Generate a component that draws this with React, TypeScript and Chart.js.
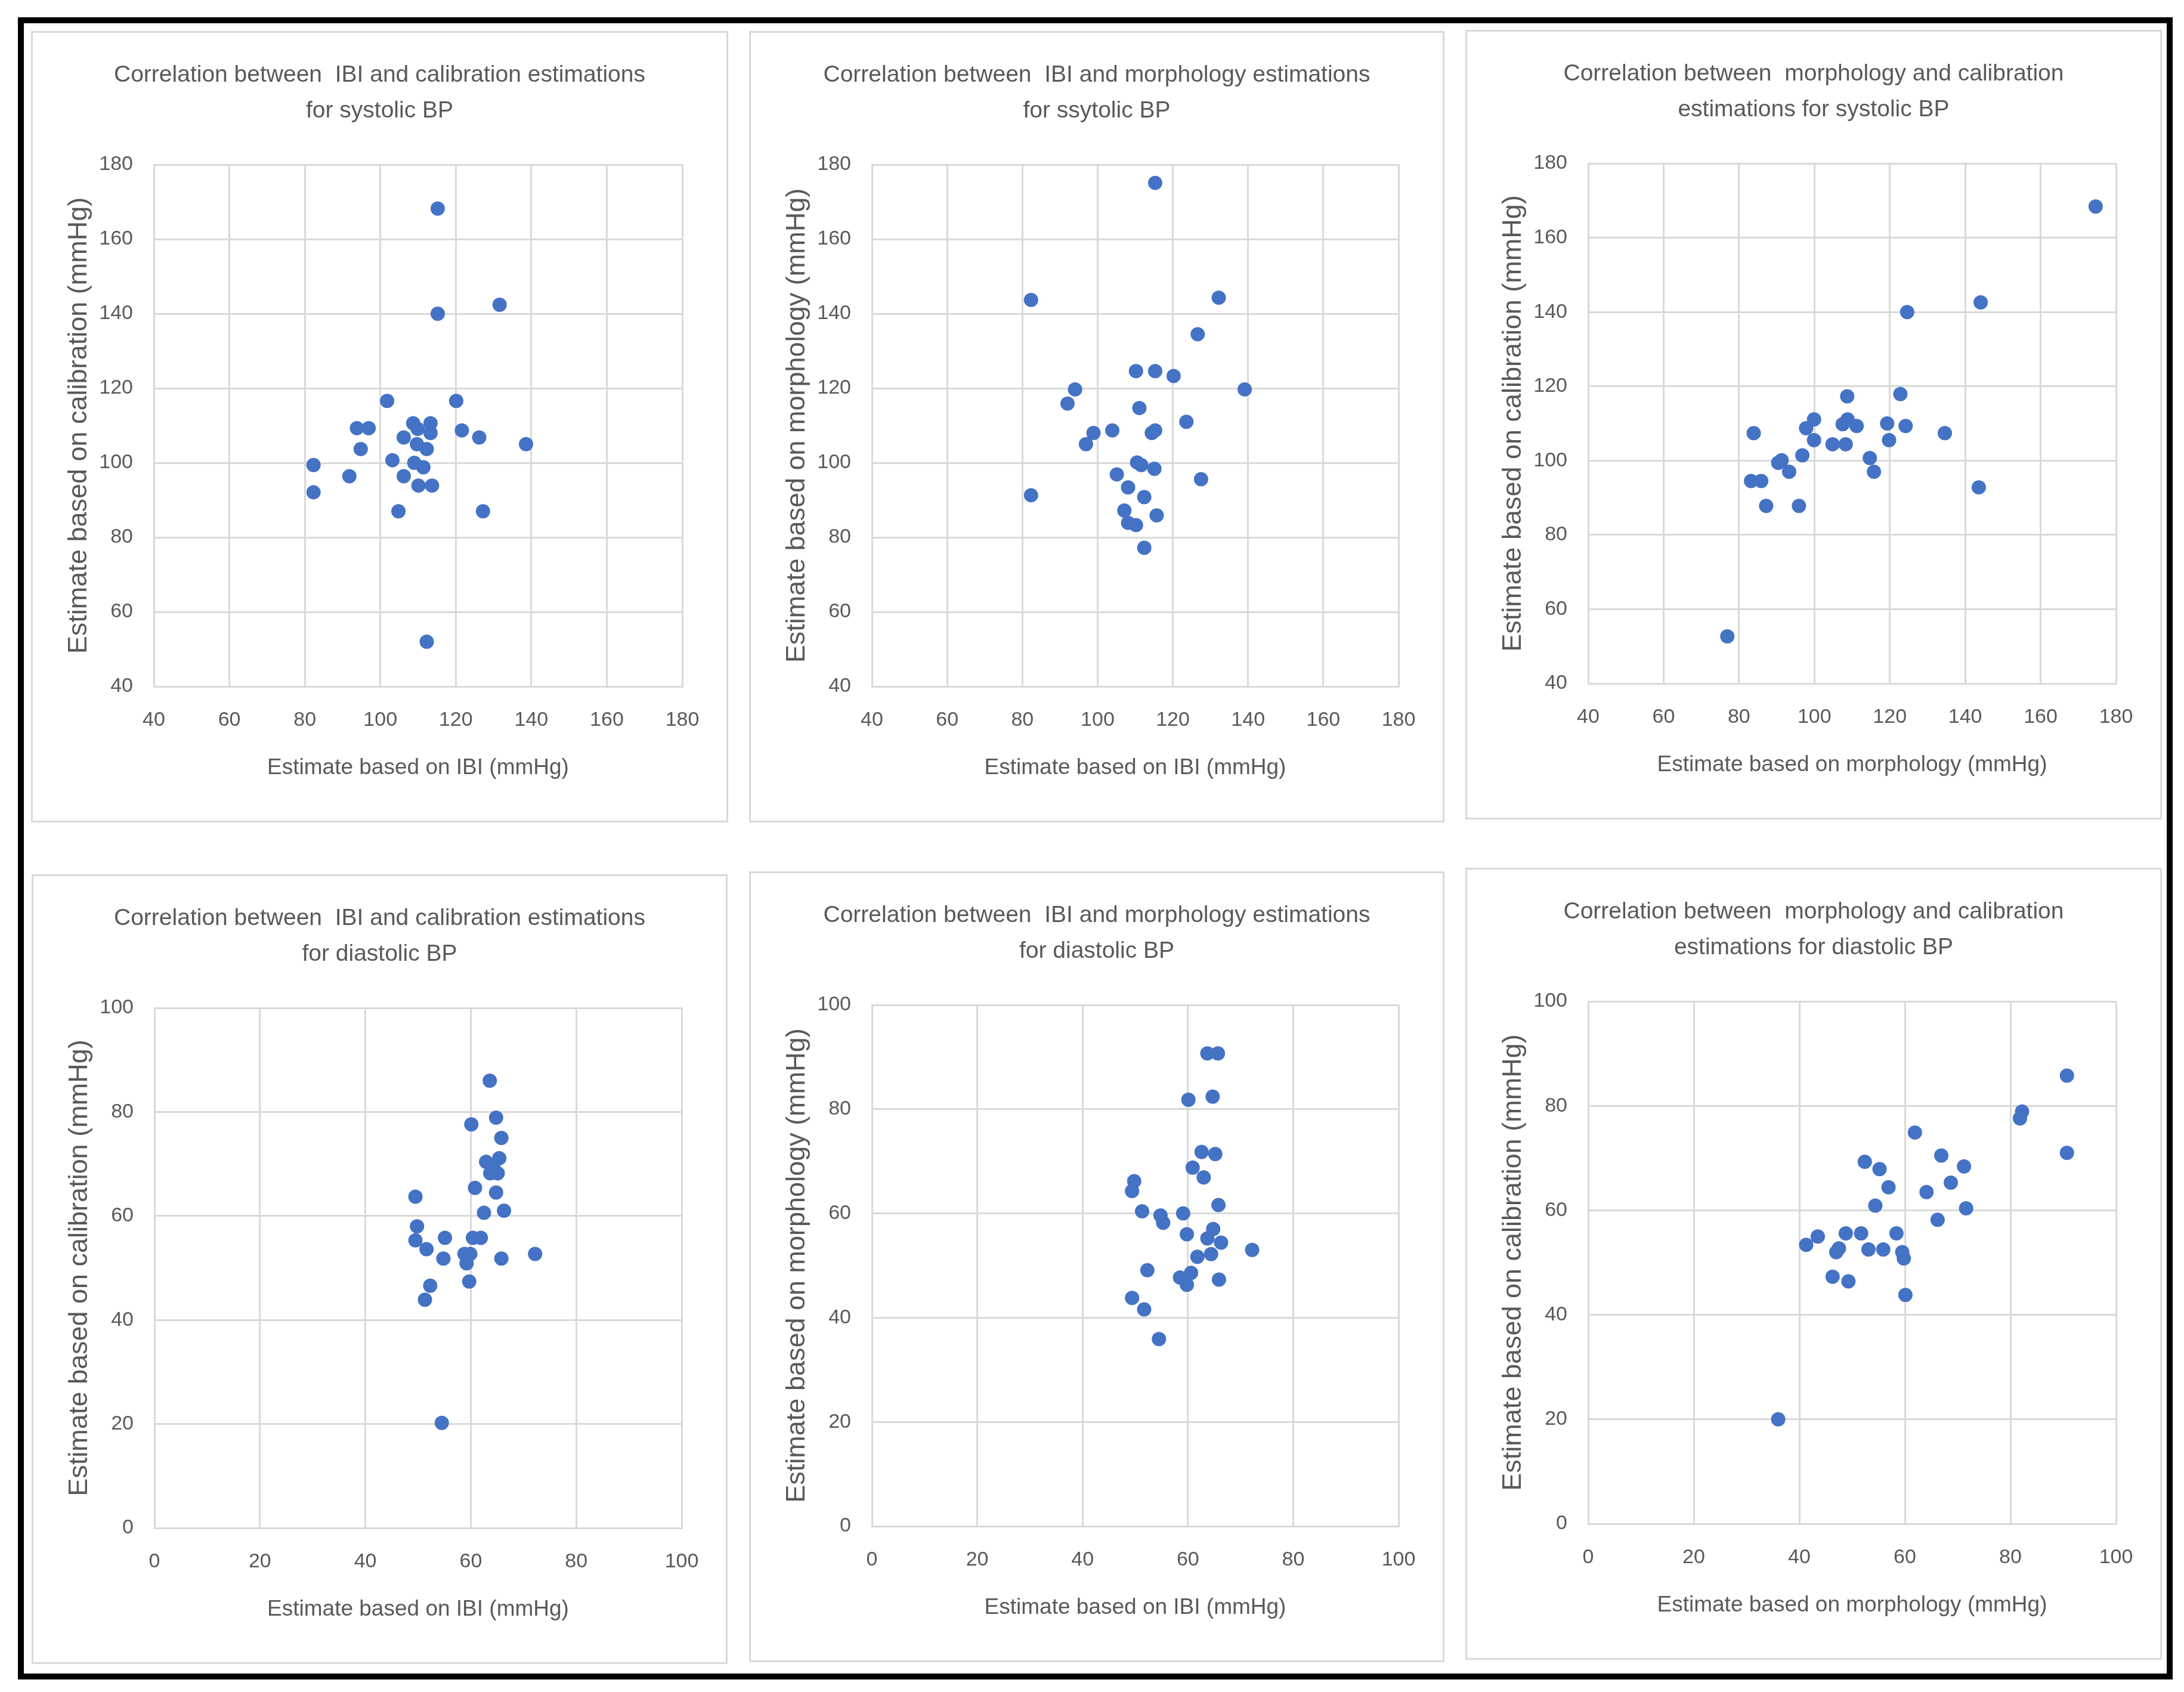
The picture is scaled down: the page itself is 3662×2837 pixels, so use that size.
import React, { useEffect, useRef } from "react";
import { Chart, registerables } from "chart.js";

Chart.register(...registerables);

// ---------- Data ----------
// Panel 1: IBI vs calibration, systolic
const sysIbiCal_IBI = [115.2, 131.6, 115.2, 101.8, 120.1, 93.8, 96.9, 108.7, 113.3, 109.9, 113.3, 121.6, 106.2, 126.2, 109.7, 138.6, 94.8, 112.3, 103.2, 82.3, 109, 111.4, 91.8, 106.2, 82.3, 110.1, 113.7, 104.8, 127.2, 112.3];
const sysIbiCal_Cal = [168.2, 142.4, 140, 116.6, 116.6, 109.3, 109.3, 110.6, 110.6, 109.1, 108, 108.7, 106.8, 106.8, 105, 105, 103.7, 103.7, 100.7, 99.4, 100, 98.8, 96.4, 96.4, 92.1, 93.9, 93.9, 87, 87, 52];

// Panel 2: IBI vs morphology, systolic
const sysIbiMor_IBI = [115.3, 82.3, 132.2, 126.6, 110.2, 115.3, 120.2, 94.0, 139.1, 92.0, 111.1, 123.6, 103.9, 98.9, 114.4, 115.3, 96.9, 110.5, 111.6, 115.1, 105.1, 127.5, 108.1, 82.3, 112.4, 107.1, 115.7, 108.1, 110.2, 112.4];
const sysIbiMor_Mor = [175.1, 143.7, 144.3, 134.5, 124.6, 124.6, 123.3, 119.7, 119.7, 115.9, 114.7, 111, 108.7, 108, 108, 108.7, 105, 100.1, 99.4, 98.4, 96.9, 95.6, 93.4, 91.3, 90.8, 87.2, 85.9, 83.9, 83.3, 77.2];

// Panel 3: morphology vs calibration, systolic
const sysMorCal_Mor = [174.6, 144.1, 124.6, 108.7, 122.8, 99.9, 97.8, 108.8, 107.5, 111.2, 119.3, 124.2, 83.9, 134.6, 99.9, 119.8, 104.8, 108.3, 96.8, 114.7, 91.3, 90.4, 93.3, 115.8, 83.2, 85.9, 143.6, 87.2, 95.9, 76.9];
const sysMorCal_Cal = [168.4, 142.6, 140, 117.3, 117.9, 111.1, 108.7, 111.1, 109.8, 109.3, 110, 109.3, 107.4, 107.4, 105.5, 105.5, 104.4, 104.4, 101.4, 100.7, 100.1, 99.4, 97, 97, 94.5, 94.5, 92.8, 87.8, 87.8, 52.7];

// Panel 4: IBI vs calibration, diastolic
const diaIbiCal_IBI = [63.6, 64.8, 60.1, 65.8, 62.9, 65.4, 64.3, 63.7, 65.1, 60.8, 49.5, 64.8, 62.5, 66.3, 49.8, 49.5, 51.6, 55.1, 60.4, 61.9, 54.8, 58.8, 59.9, 59.2, 65.8, 72.2, 52.3, 59.7, 51.3, 54.5];
const diaIbiCal_Cal = [86, 78.9, 77.6, 75, 70.4, 71.1, 69.4, 68.2, 68.2, 65.4, 63.7, 64.5, 60.6, 61, 58, 55.3, 53.6, 55.8, 55.8, 55.8, 51.8, 52.7, 52.7, 50.9, 51.8, 52.7, 46.6, 47.4, 43.9, 20.2];

// Panel 5: IBI vs morphology, diastolic
const diaIbiMor_IBI = [63.7, 65.7, 60.1, 64.7, 62.6, 65.2, 60.9, 63.0, 49.8, 49.4, 65.8, 51.3, 54.8, 55.3, 59.1, 59.8, 64.8, 63.7, 66.3, 72.2, 61.8, 64.4, 52.3, 58.5, 59.5, 60.6, 59.8, 65.9, 49.4, 51.7, 54.5];
const diaIbiMor_Mor = [90.7, 90.7, 81.8, 82.4, 71.8, 71.4, 68.8, 66.9, 66.2, 64.3, 61.6, 60.4, 59.6, 58.2, 60.0, 56.0, 57.0, 55.2, 54.4, 53.0, 51.7, 52.2, 49.1, 47.7, 47.3, 48.6, 46.3, 47.3, 43.8, 41.6, 35.9];

// Panel 6: morphology vs calibration, diastolic
const diaMorCal_Mor = [90.7, 82.2, 81.8, 61.9, 90.7, 66.9, 52.4, 71.2, 55.2, 68.7, 56.9, 64.1, 54.4, 71.6, 66.2, 43.5, 48.8, 51.7, 58.4, 41.3, 47.5, 47.0, 53.1, 55.9, 59.5, 59.8, 46.3, 49.3, 60.1, 36.0];
const diaMorCal_Cal = [85.8, 78.9, 77.6, 74.9, 71.0, 70.5, 69.3, 68.4, 67.9, 65.3, 64.4, 63.5, 60.9, 60.4, 58.2, 55.0, 55.6, 55.6, 55.6, 53.4, 52.7, 52.0, 52.5, 52.5, 52.0, 50.8, 47.3, 46.4, 43.8, 20.0];

// Titles and axis labels
const titles: string[][] = [
  ["Correlation between  IBI and calibration estimations", "for systolic BP"],
  ["Correlation between  IBI and morphology estimations", "for ssytolic BP"],
  ["Correlation between  morphology and calibration", "estimations for systolic BP"],
  ["Correlation between  IBI and calibration estimations", "for diastolic BP"],
  ["Correlation between  IBI and morphology estimations", "for diastolic BP"],
  ["Correlation between  morphology and calibration", "estimations for diastolic BP"],
];
const xTitles = [
  "Estimate based on IBI (mmHg)",
  "Estimate based on IBI (mmHg)",
  "Estimate based on morphology (mmHg)",
  "Estimate based on IBI (mmHg)",
  "Estimate based on IBI (mmHg)",
  "Estimate based on morphology (mmHg)",
];
const yTitles = [
  "Estimate based on calibration (mmHg)",
  "Estimate based on morphology (mmHg)",
  "Estimate based on calibration (mmHg)",
  "Estimate based on calibration (mmHg)",
  "Estimate based on morphology (mmHg)",
  "Estimate based on calibration (mmHg)",
];
const systolicRange = [40, 180];
const diastolicRange = [0, 100];
const tickStep = 20;

// ---------- Styling ----------
const FONT = "'Liberation Sans', Arial, sans-serif";
const TEXT = "#595959";
const GRID = "#d9d9d9";
const DOT = "#4472C4";

type PanelDef = {
  xs: number[];
  ys: number[];
  title: string[];
  xTitle: string;
  yTitle: string;
  range: number[];
  rect: [number, number, number, number];
};

const panels: PanelDef[] = [
  { xs: sysIbiCal_IBI, ys: sysIbiCal_Cal, title: titles[0], xTitle: xTitles[0], yTitle: yTitles[0], range: systolicRange, rect: [52, 52, 1169, 1327] },
  { xs: sysIbiMor_IBI, ys: sysIbiMor_Mor, title: titles[1], xTitle: xTitles[1], yTitle: yTitles[1], range: systolicRange, rect: [1256, 52, 1166, 1327] },
  { xs: sysMorCal_Mor, ys: sysMorCal_Cal, title: titles[2], xTitle: xTitles[2], yTitle: yTitles[2], range: systolicRange, rect: [2457, 50, 1168, 1324] },
  { xs: diaIbiCal_IBI, ys: diaIbiCal_Cal, title: titles[3], xTitle: xTitles[3], yTitle: yTitles[3], range: diastolicRange, rect: [53, 1466, 1167, 1324] },
  { xs: diaIbiMor_IBI, ys: diaIbiMor_Mor, title: titles[4], xTitle: xTitles[4], yTitle: yTitles[4], range: diastolicRange, rect: [1256, 1461, 1166, 1326] },
  { xs: diaMorCal_Mor, ys: diaMorCal_Cal, title: titles[5], xTitle: xTitles[5], yTitle: yTitles[5], range: diastolicRange, rect: [2457, 1455, 1168, 1328] },
];

const BORDER = 3;

function ScatterPanel({ p }: { p: PanelDef }) {
  const ref = useRef<HTMLCanvasElement | null>(null);
  const [left, top, w, h] = p.rect;
  const cw = w - 2 * BORDER;
  const ch = h - 2 * BORDER;

  useEffect(() => {
    if (!ref.current) return;
    const tickFont = { family: FONT, size: 34, weight: "normal" as const };
    const xTitleFont = { family: FONT, size: 37, weight: "normal" as const, lineHeight: 1.2 };
    const yTitleFont = { family: FONT, size: 45, weight: "normal" as const, lineHeight: 1.2 };
    const chart = new Chart(ref.current, {
      type: "scatter",
      data: {
        datasets: [
          {
            data: p.xs.map((x, i) => ({ x, y: p.ys[i] })),
            backgroundColor: DOT,
            borderColor: DOT,
            pointRadius: 12,
            pointHoverRadius: 12,
            pointBorderWidth: 0,
            yAxisID: "y",
          },
        ],
      },
      options: {
        responsive: false,
        animation: false,
        devicePixelRatio: 1,
        layout: { padding: 0 },
        plugins: {
          legend: { display: false },
          tooltip: { enabled: false },
          title: {
            display: true,
            text: p.title,
            color: TEXT,
            font: { family: FONT, size: 39, weight: "normal", lineHeight: 60 / 39 },
            padding: { top: 41, bottom: 60 },
          },
        },
        scales: {
          x: {
            type: "linear",
            min: p.range[0],
            max: p.range[1],
            ticks: { stepSize: tickStep, color: TEXT, font: tickFont, padding: 36 },
            grid: { color: GRID, lineWidth: 3, drawTicks: false },
            border: { color: GRID, width: 3 },
            title: { display: true, text: p.xTitle, color: TEXT, font: xTitleFont, padding: { top: 0, bottom: 66 } },
            afterFit: (s: any) => {
              s.height = 225;
            },
          },
          y: {
            type: "linear",
            position: "left",
            min: p.range[0],
            max: p.range[1],
            ticks: { stepSize: tickStep, color: TEXT, font: tickFont, padding: 35 },
            grid: { color: GRID, lineWidth: 3, drawTicks: false },
            border: { color: GRID, width: 3 },
            title: { display: true, text: p.yTitle, color: TEXT, font: yTitleFont, padding: { top: 51, bottom: 0 } },
            afterFit: (s: any) => {
              s.width = 203;
            },
          },
          spacer: {
            type: "linear",
            position: "right",
            display: true,
            min: 0,
            max: 1,
            ticks: { display: false },
            grid: { display: false, drawTicks: false },
            border: { display: false },
            title: { display: false },
            afterFit: (s: any) => {
              s.width = 74;
            },
          },
        },
      },
    } as any);
    return () => chart.destroy();
  }, [p]);

  return (
    <div
      style={{
        position: "absolute",
        left,
        top,
        width: w,
        height: h,
        border: `${BORDER}px solid ${GRID}`,
        boxSizing: "border-box",
        background: "#ffffff",
      }}
    >
      <canvas ref={ref} width={cw} height={ch} style={{ display: "block", width: cw, height: ch }} />
    </div>
  );
}

export default function App() {
  useEffect(() => {
    document.body.style.margin = "0";
  }, []);
  return (
    <div style={{ position: "absolute", left: 0, top: 0, width: 3662, height: 2837, background: "#ffffff", overflow: "hidden" }}>
      <div
        style={{
          position: "absolute",
          left: 30,
          top: 29,
          width: 3613,
          height: 2787,
          border: "10px solid #000000",
          boxSizing: "border-box",
        }}
      />
      {panels.map((p, i) => (
        <ScatterPanel key={i} p={p} />
      ))}
    </div>
  );
}
